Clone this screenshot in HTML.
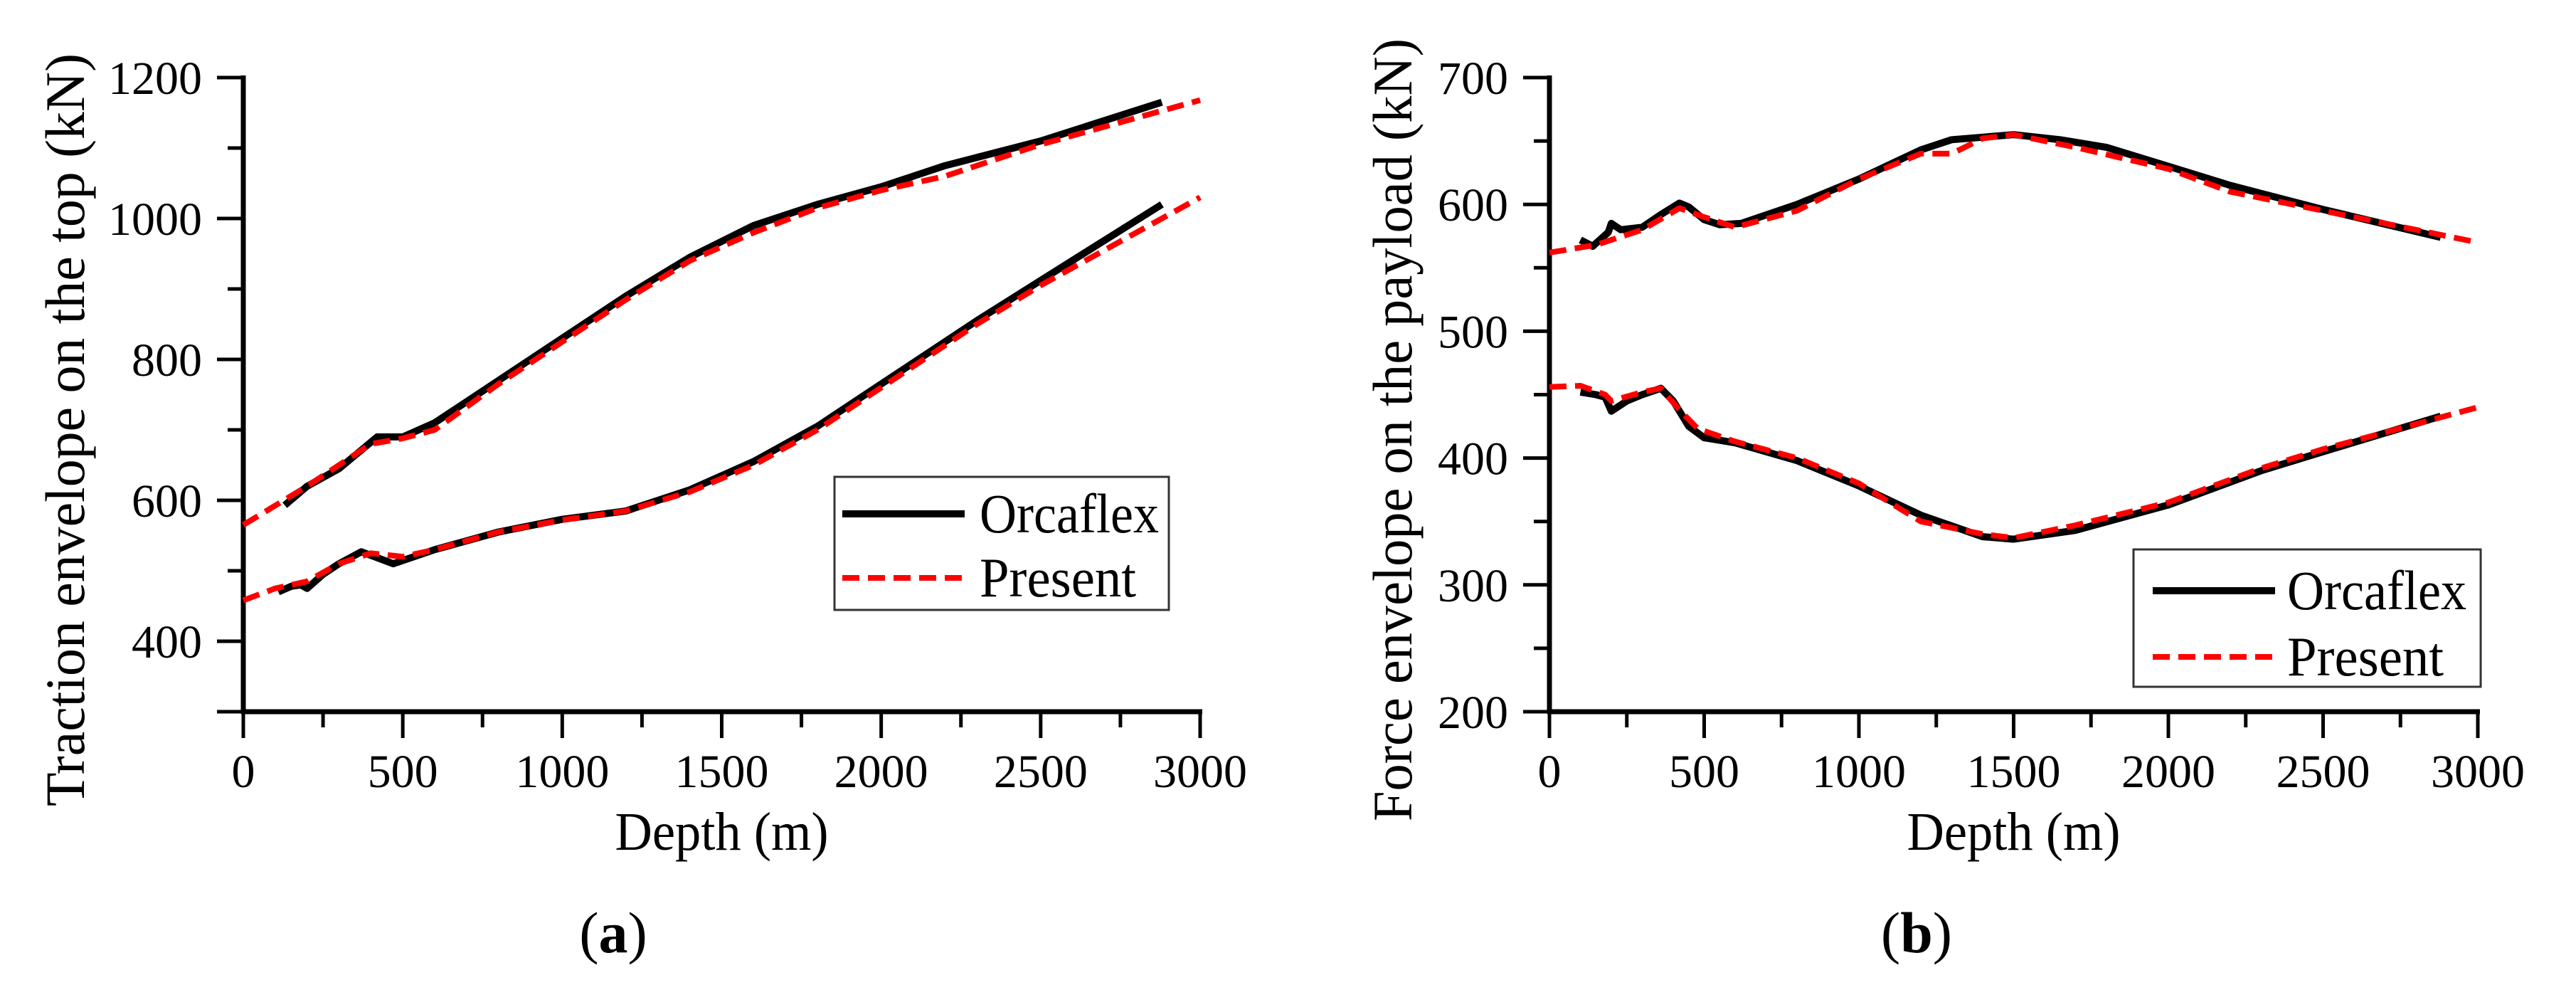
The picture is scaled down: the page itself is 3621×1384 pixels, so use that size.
<!DOCTYPE html>
<html><head><meta charset="utf-8"><style>
html,body{margin:0;padding:0;background:#fff;}
svg{display:block;font-family:"Liberation Serif",serif;}
</style></head><body>
<svg id="fig" width="3621" height="1384" viewBox="0 0 3621 1384" xmlns="http://www.w3.org/2000/svg">
<g id="pa"></g>
<g id="pb"></g>
</svg>
<script>
const xTicks = [0, 500, 1000, 1500, 2000, 2500, 3000];
const aYTicks = [400, 600, 800, 1000, 1200];
const bYTicks = [200, 300, 400, 500, 600, 700];

const aUpperOrcaX = [130, 200, 300, 420, 500, 600, 800, 1000, 1200, 1400, 1600, 1800, 2000, 2200, 2500, 2880];
const aUpperOrcaY = [593, 620, 645, 690, 690, 710, 770, 830, 890, 945, 990, 1020, 1045, 1075, 1110, 1165];
const aUpperPresX = [0, 200, 400, 500, 600, 800, 1000, 1200, 1400, 1600, 1800, 2000, 2200, 2500, 3000];
const aUpperPresY = [565, 620, 680, 688, 700, 765, 825, 885, 940, 980, 1015, 1040, 1060, 1105, 1168];
const aLowerOrcaX = [110, 150, 180, 200, 250, 300, 370, 470, 600, 800, 1000, 1200, 1400, 1600, 1800, 2000, 2300, 2500, 2880];
const aLowerOrcaY = [470, 478, 480, 475, 495, 510, 527, 510, 530, 555, 573, 585, 615, 655, 705, 765, 855, 912, 1020];
const aLowerPresX = [0, 100, 200, 300, 400, 500, 600, 800, 1000, 1200, 1400, 1600, 1800, 2000, 2300, 2500, 3000];
const aLowerPresY = [458, 475, 485, 510, 525, 520, 530, 555, 572, 585, 612, 650, 700, 760, 850, 905, 1030];

const bUpperOrcaX = [100, 140, 190, 200, 230, 300, 360, 420, 450, 500, 550, 620, 800, 1000, 1200, 1300, 1500, 1650, 1800, 2000, 2200, 2500, 2880];
const bUpperOrcaY = [572, 567, 578, 585, 580, 582, 592, 601, 598, 588, 584, 585, 600, 620, 643, 651, 655, 651, 645, 630, 615, 596, 574];
const bUpperPresX = [0, 150, 200, 300, 420, 500, 600, 800, 1000, 1200, 1300, 1400, 1500, 1700, 2000, 2200, 2500, 3000];
const bUpperPresY = [562, 568, 572, 580, 597, 590, 582, 595, 620, 640, 640, 652, 655, 645, 628, 610, 595, 570];
const bLowerOrcaX = [100, 150, 180, 200, 250, 300, 360, 400, 450, 500, 600, 800, 1000, 1200, 1400, 1500, 1700, 2000, 2300, 2500, 2880];
const bLowerOrcaY = [452, 450, 448, 437, 445, 450, 455, 445, 425, 416, 412, 398, 378, 355, 338, 336, 343, 363, 390, 405, 433];
const bLowerPresX = [0, 100, 180, 200, 300, 360, 420, 480, 600, 800, 1000, 1200, 1400, 1500, 1700, 2000, 2300, 2500, 3000];
const bLowerPresY = [456, 457, 450, 445, 452, 455, 438, 423, 413, 400, 380, 350, 340, 337, 347, 365, 392, 407, 440];

const NS = "http://www.w3.org/2000/svg";
function mk(tag, attrs, parent) {
  const e = document.createElementNS(NS, tag);
  for (const k in attrs) e.setAttribute(k, attrs[k]);
  parent.appendChild(e);
  return e;
}
function panel(g, cfg) {
  const x0 = cfg.x0, x1 = cfg.x1, yTop = 109, yBot = 1000;
  const sx = v => x0 + (v - 0) / 3000 * (x1 - x0);
  const sy = v => yBot - (v - cfg.ymin) / (cfg.ymax - cfg.ymin) * (yBot - yTop);
  const yAxis = mk("line", {x1: x0, y1: yTop - 3, x2: x0, y2: yBot + 3, stroke: "#000", "stroke-width": 7}, g);
  
  
  const xAxis = mk("line", {x1: x0 - 3, y1: yBot, x2: x1 + 3, y2: yBot, stroke: "#000", "stroke-width": 7}, g);
  
  
  for (let i = 0; i < xTicks.length; i++) {
    const v = xTicks[i];
    const t = mk("line", {x1: sx(v), y1: yBot, x2: sx(v), y2: yBot + 37, stroke: "#000", "stroke-width": 5}, g);
    
    
    if (i < xTicks.length - 1) {
      const m = mk("line", {x1: sx(v + 250), y1: yBot, x2: sx(v + 250), y2: yBot + 22, stroke: "#000", "stroke-width": 5}, g);
      
      
    }
    const l = mk("text", {x: sx(v), y: 1106, "text-anchor": "middle", "font-size": 66}, g);
    l.textContent = v;
    
    
  }
  const yt = cfg.yTicks;
  for (let v = cfg.ymin; v <= cfg.ymax; v += cfg.minorStep) {
    const major = yt.indexOf(v) >= 0 || v === cfg.ymin;
    const t = mk("line", {x1: x0 - (major ? 37 : 22), y1: sy(v), x2: x0, y2: sy(v), stroke: "#000", "stroke-width": 5}, g);
    
    
  }
  for (const v of yt) {
    const l = mk("text", {x: x0 - 58, y: sy(v) + 23, "text-anchor": "end", "font-size": 66}, g);
    l.textContent = v;
    
    
  }
  function series(xs, ys, dashed, name) {
    let d = "";
    for (let i = 0; i < xs.length; i++) d += (i ? "L" : "M") + sx(xs[i]).toFixed(1) + " " + sy(ys[i]).toFixed(1);
    const p = mk("path", dashed ? {d: d, fill: "none", stroke: "#ff0000", "stroke-width": 8, "stroke-dasharray": "24 12", "stroke-linejoin": "round"}
                               : {d: d, fill: "none", stroke: "#000", "stroke-width": 10, "stroke-linejoin": "round"}, g);
    
    
  }
  series(cfg.uo[0], cfg.uo[1], false, 'orcaflex-upper-line');
  series(cfg.lo[0], cfg.lo[1], false, 'orcaflex-lower-line');
  series(cfg.up[0], cfg.up[1], true, 'present-upper-line');
  series(cfg.lp[0], cfg.lp[1], true, 'present-lower-line');
  const L = cfg.leg;
  const box = mk("rect", {x: L.x, y: L.y, width: L.w, height: L.h, fill: "#fff", stroke: "#333", "stroke-width": 3}, g);
  
  
  const l1 = mk("line", {x1: L.lx, y1: L.y1, x2: L.lx + 172, y2: L.y1, stroke: "#000", "stroke-width": 10}, g);
  
  
  const t1 = mk("text", {x: L.tx, y: L.y1 + 26, "font-size": 78, textLength: 252, lengthAdjust: "spacingAndGlyphs"}, g);
  t1.textContent = "Orcaflex";
  
  
  const l2 = mk("line", {x1: L.lx, y1: L.y2, x2: L.lx + 172, y2: L.y2, stroke: "#ff0000", "stroke-width": 8, "stroke-dasharray": "24 12"}, g);
  
  
  const t2 = mk("text", {x: L.tx, y: L.y2 + 26, "font-size": 78, textLength: 220, lengthAdjust: "spacingAndGlyphs"}, g);
  t2.textContent = "Present";
  
  
  const xt = mk("text", {x: (x0 + x1) / 2, y: 1194, "text-anchor": "middle", "font-size": 76, textLength: 300, lengthAdjust: "spacingAndGlyphs"}, g);
  xt.textContent = "Depth (m)";
  
  
  const ytt = mk("text", {x: 0, y: 0, "text-anchor": "middle", "font-size": 78, textLength: cfg.ytLen, lengthAdjust: "spacingAndGlyphs", transform: "translate(" + cfg.ytX + ",604) rotate(-90)"}, g);
  ytt.textContent = cfg.ytitle;
  
  
  const cap = mk("text", {x: cfg.capX, y: 1338, "text-anchor": "middle", "font-size": 82}, g);
  const s1 = mk("tspan", {}, cap); s1.textContent = "(";
  const s2 = mk("tspan", {"font-weight": "bold"}, cap); s2.textContent = cfg.cap;
  const s3 = mk("tspan", {}, cap); s3.textContent = ")";
  
  
}
panel(document.getElementById("pa"), {
  x0: 342, x1: 1687, ymin: 300, ymax: 1200, yTicks: aYTicks, minorStep: 100,
  uo: [aUpperOrcaX, aUpperOrcaY], up: [aUpperPresX, aUpperPresY],
  lo: [aLowerOrcaX, aLowerOrcaY], lp: [aLowerPresX, aLowerPresY],
  leg: {x: 1173, y: 670, w: 470, h: 187, lx: 1184, tx: 1377, y1: 722, y2: 812},
  ytitle: "Traction envelope on the top (kN)", ytX: 118, ytLen: 1058,
  capX: 862, cap: "a"
});
panel(document.getElementById("pb"), {
  x0: 2178, x1: 3483, ymin: 200, ymax: 700, yTicks: bYTicks, minorStep: 50,
  uo: [bUpperOrcaX, bUpperOrcaY], up: [bUpperPresX, bUpperPresY],
  lo: [bLowerOrcaX, bLowerOrcaY], lp: [bLowerPresX, bLowerPresY],
  leg: {x: 2999, y: 772, w: 488, h: 193, lx: 3026, tx: 3215, y1: 830, y2: 923},
  ytitle: "Force envelope on the payload (kN)", ytX: 1984, ytLen: 1100,
  capX: 2694, cap: "b"
});
</script>
</body></html>
